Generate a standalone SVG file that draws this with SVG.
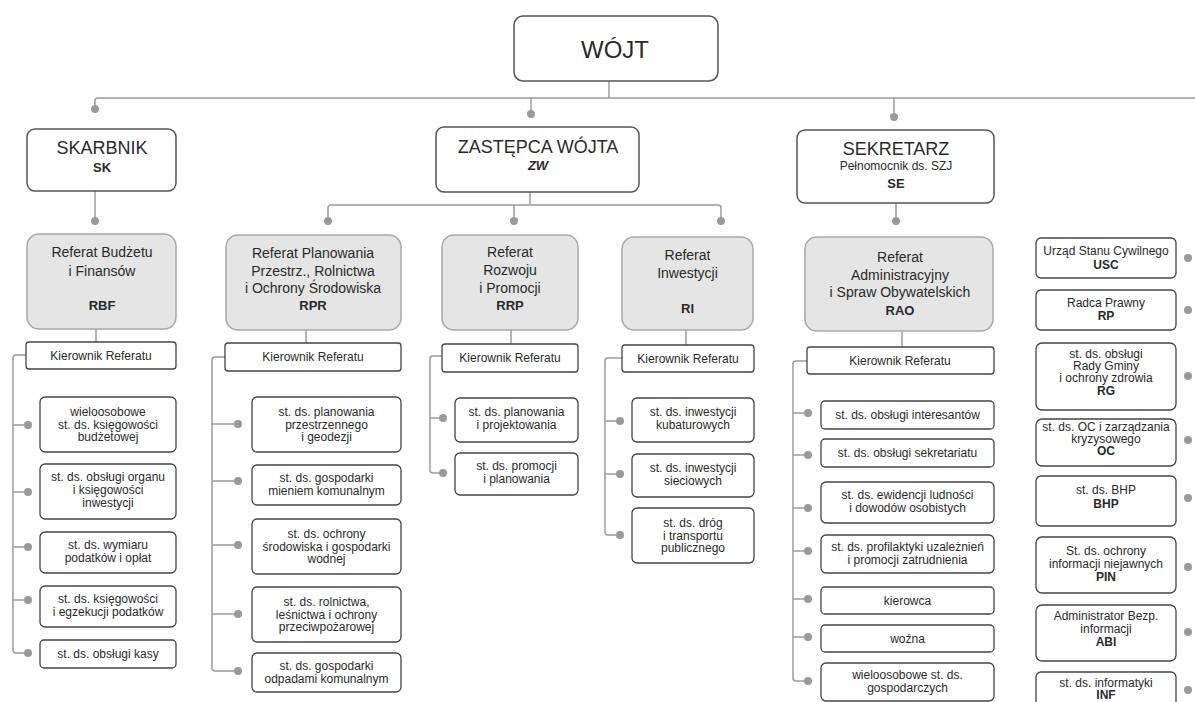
<svg xmlns="http://www.w3.org/2000/svg" width="1195" height="702" viewBox="0 0 1195 702">
<style>
text{font-family:"Liberation Sans",Arial,sans-serif;fill:#2a2a2a;text-anchor:middle}
.big{font-size:24px}
.h1{font-size:18px}
.h2{font-size:14px}
.s{font-size:12px}
.b{font-weight:bold;font-size:13px}
.bs{font-weight:bold;font-size:12px}
.top{fill:#fff;stroke:#555;stroke-width:1.5}
.ref{fill:#e5e5e5;stroke:#a8a8a8;stroke-width:1.5}
.box{fill:#fff;stroke:#444;stroke-width:1.3}
.ln{fill:none;stroke:#9a9a9a;stroke-width:1.5}
.dot{fill:#9a9a9a}
</style>
<rect width="1195" height="702" fill="#fff"/>
<g id="connectors">
<path class="ln" d="M609,81V98 M95,109V101Q95,98 98,98H1195 M531,98V114 M894,98V117"/>
<path class="ln" d="M95,191V221 M530,192V205 M328,221V208Q328,205 331,205H718Q721,205 721,208V221 M514,205V221 M896,203V221"/>
<path class="ln" d="M96,329V342 M306,330V343 M511,330V344 M686,330V345 M902,331V347"/>
<path class="ln" d="M26,355H16Q13,355 13,358V650Q13,653 16,653H28 M13,425H28 M13,492H28 M13,547H28 M13,600H28"/>
<path class="ln" d="M225,357H215Q212,357 212,360V668Q212,671 215,671H238 M212,424H238 M212,481H238 M212,545H238 M212,614H238"/>
<path class="ln" d="M442,356H433Q430,356 430,359V470Q430,473 433,473H443 M430,418H443"/>
<path class="ln" d="M622,358H608Q605,358 605,361V532Q605,535 608,535H620 M605,421H620 M605,474H620"/>
<path class="ln" d="M807,361H796Q793,361 793,364V678Q793,681 796,681H808 M793,413H808 M793,455H808 M793,508H808 M793,551H808 M793,599H808 M793,637H808"/>
<g class="dot">
<circle cx="95" cy="109" r="4"/><circle cx="531" cy="114" r="4"/><circle cx="894" cy="117" r="4"/>
<circle cx="95" cy="221" r="4"/><circle cx="328" cy="221" r="4"/><circle cx="514" cy="221" r="4"/><circle cx="721" cy="221" r="4"/><circle cx="896" cy="221" r="4"/>
<circle cx="28" cy="425" r="4"/><circle cx="28" cy="492" r="4"/><circle cx="28" cy="547" r="4"/><circle cx="28" cy="600" r="4"/><circle cx="28" cy="653" r="4"/>
<circle cx="238" cy="424" r="4"/><circle cx="238" cy="481" r="4"/><circle cx="238" cy="545" r="4"/><circle cx="238" cy="614" r="4"/><circle cx="238" cy="671" r="4"/>
<circle cx="443" cy="418" r="4"/><circle cx="443" cy="473" r="4"/>
<circle cx="620" cy="421" r="4"/><circle cx="620" cy="474" r="4"/><circle cx="620" cy="535" r="4"/>
<circle cx="808" cy="413" r="4"/><circle cx="808" cy="455" r="4"/><circle cx="808" cy="508" r="4"/><circle cx="808" cy="551" r="4"/><circle cx="808" cy="599" r="4"/><circle cx="808" cy="637" r="4"/><circle cx="808" cy="681" r="4"/>
<circle cx="1188" cy="258" r="4"/><circle cx="1188" cy="310" r="4"/><circle cx="1188" cy="376" r="4"/><circle cx="1188" cy="440" r="4"/><circle cx="1188" cy="498" r="4"/><circle cx="1188" cy="567" r="4"/><circle cx="1188" cy="632" r="4"/><circle cx="1188" cy="690" r="4"/>
</g>
</g>
<g id="wojt"><rect class="top" x="514" y="16" width="204" height="65" rx="9"/><text class="big" x="615" y="58">WÓJT</text></g>
<g id="sk"><rect class="top" x="27" y="129" width="149" height="62" rx="8"/><text class="h1" x="102" y="154">SKARBNIK</text><text class="b" x="102" y="172">SK</text></g>
<g id="zw"><rect class="top" x="436" y="127" width="203" height="65" rx="8"/><text class="h1" x="538" y="153">ZASTĘPCA WÓJTA</text><text class="b" x="538" y="170" font-style="italic">ZW</text></g>
<g id="se"><rect class="top" x="797" y="130" width="197" height="73" rx="8"/><text class="h1" x="896" y="155">SEKRETARZ</text><text class="s" x="896" y="170">Pełnomocnik ds. SZJ</text><text class="b" x="896" y="188">SE</text></g>

<g id="rbf"><rect class="ref" x="27" y="234" width="149" height="95" rx="12"/><text class="h2" x="102" y="257">Referat Budżetu</text><text class="h2" x="102" y="276">i Finansów</text><text class="b" x="102" y="310">RBF</text></g>
<g id="rbf-k"><rect class="box" x="26" y="342" width="150" height="27" rx="3"/><text class="s" x="101" y="360">Kierownik Referatu</text></g>
<g id="rbf-1"><rect class="box" x="40" y="397" width="136" height="55" rx="5"/><text class="s" x="108" y="416">wieloosobowe</text><text class="s" x="108" y="428.5">st. ds. księgowości</text><text class="s" x="108" y="441">budżetowej</text></g>
<g id="rbf-2"><rect class="box" x="40" y="464" width="136" height="55" rx="5"/><text class="s" x="108" y="481">st. ds. obsługi organu</text><text class="s" x="108" y="494">i księgowości</text><text class="s" x="108" y="507">inwestycji</text></g>
<g id="rbf-3"><rect class="box" x="40" y="532" width="136" height="41" rx="5"/><text class="s" x="108" y="549">st. ds. wymiaru</text><text class="s" x="108" y="562">podatków i opłat</text></g>
<g id="rbf-4"><rect class="box" x="40" y="586" width="136" height="41" rx="5"/><text class="s" x="108" y="603">st. ds. księgowości</text><text class="s" x="108" y="616">i egzekucji podatków</text></g>
<g id="rbf-5"><rect class="box" x="40" y="640" width="136" height="28" rx="4"/><text class="s" x="108" y="658">st. ds. obsługi kasy</text></g>

<g id="rpr"><rect class="ref" x="226" y="235" width="175" height="95" rx="12"/><text class="h2" x="313" y="258">Referat Planowania</text><text class="h2" x="313" y="275.5">Przestrz., Rolnictwa</text><text class="h2" x="313" y="293">i Ochrony Środowiska</text><text class="b" x="313" y="310">RPR</text></g>
<g id="rpr-k"><rect class="box" x="225" y="343" width="176" height="28" rx="3"/><text class="s" x="313" y="361">Kierownik Referatu</text></g>
<g id="rpr-1"><rect class="box" x="252" y="397" width="149" height="55" rx="5"/><text class="s" x="326.5" y="416">st. ds. planowania</text><text class="s" x="326.5" y="428.5">przestrzennego</text><text class="s" x="326.5" y="441">i geodezji</text></g>
<g id="rpr-2"><rect class="box" x="252" y="465" width="149" height="40" rx="5"/><text class="s" x="326.5" y="482">st. ds. gospodarki</text><text class="s" x="326.5" y="495">mieniem komunalnym</text></g>
<g id="rpr-3"><rect class="box" x="252" y="519" width="149" height="55" rx="5"/><text class="s" x="326.5" y="538">st. ds. ochrony</text><text class="s" x="326.5" y="550.5">środowiska i gospodarki</text><text class="s" x="326.5" y="563">wodnej</text></g>
<g id="rpr-4"><rect class="box" x="252" y="587" width="149" height="55" rx="5"/><text class="s" x="326.5" y="606">st. ds. rolnictwa,</text><text class="s" x="326.5" y="618.5">leśnictwa i ochrony</text><text class="s" x="326.5" y="631">przeciwpożarowej</text></g>
<g id="rpr-5"><rect class="box" x="252" y="653" width="149" height="39" rx="5"/><text class="s" x="326.5" y="669.5">st. ds. gospodarki</text><text class="s" x="326.5" y="682.5">odpadami komunalnym</text></g>

<g id="rrp"><rect class="ref" x="442" y="235" width="136" height="95" rx="12"/><text class="h2" x="510" y="257">Referat</text><text class="h2" x="510" y="275">Rozwoju</text><text class="h2" x="510" y="293">i Promocji</text><text class="b" x="510" y="310">RRP</text></g>
<g id="rrp-k"><rect class="box" x="442" y="344" width="136" height="28" rx="3"/><text class="s" x="510" y="362">Kierownik Referatu</text></g>
<g id="rrp-1"><rect class="box" x="455" y="398" width="123" height="44" rx="5"/><text class="s" x="516.5" y="416">st. ds. planowania</text><text class="s" x="516.5" y="429">i projektowania</text></g>
<g id="rrp-2"><rect class="box" x="455" y="453" width="123" height="42" rx="5"/><text class="s" x="516.5" y="470">st. ds. promocji</text><text class="s" x="516.5" y="483">i planowania</text></g>

<g id="ri"><rect class="ref" x="622" y="237" width="131" height="93" rx="12"/><text class="h2" x="687.5" y="260">Referat</text><text class="h2" x="687.5" y="278">Inwestycji</text><text class="b" x="687.5" y="313">RI</text></g>
<g id="ri-k"><rect class="box" x="622" y="345" width="132" height="27" rx="3"/><text class="s" x="688" y="363">Kierownik Referatu</text></g>
<g id="ri-1"><rect class="box" x="632" y="398" width="122" height="44" rx="5"/><text class="s" x="693" y="416">st. ds. inwestycji</text><text class="s" x="693" y="429">kubaturowych</text></g>
<g id="ri-2"><rect class="box" x="632" y="454" width="122" height="43" rx="5"/><text class="s" x="693" y="472">st. ds. inwestycji</text><text class="s" x="693" y="485">sieciowych</text></g>
<g id="ri-3"><rect class="box" x="632" y="508" width="122" height="55" rx="5"/><text class="s" x="693" y="527">st. ds. dróg</text><text class="s" x="693" y="539.5">i transportu</text><text class="s" x="693" y="552">publicznego</text></g>

<g id="rao"><rect class="ref" x="805" y="237" width="188" height="94" rx="12"/><text class="h2" x="900" y="262">Referat</text><text class="h2" x="900" y="279.5">Administracyjny</text><text class="h2" x="900" y="297">i Spraw Obywatelskich</text><text class="b" x="900" y="315">RAO</text></g>
<g id="rao-k"><rect class="box" x="807" y="347" width="187" height="27" rx="3"/><text class="s" x="900" y="365">Kierownik Referatu</text></g>
<g id="rao-1"><rect class="box" x="821" y="401" width="173" height="28" rx="4"/><text class="s" x="907.5" y="419">st. ds. obsługi interesantów</text></g>
<g id="rao-2"><rect class="box" x="821" y="439" width="173" height="28" rx="4"/><text class="s" x="907.5" y="457">st. ds. obsługi sekretariatu</text></g>
<g id="rao-3"><rect class="box" x="821" y="482" width="173" height="41" rx="5"/><text class="s" x="907.5" y="499">st. ds. ewidencji ludności</text><text class="s" x="907.5" y="512">i dowodów osobistych</text></g>
<g id="rao-4"><rect class="box" x="821" y="535" width="173" height="38" rx="5"/><text class="s" x="907.5" y="551">st. ds. profilaktyki uzależnień</text><text class="s" x="907.5" y="564">i promocji zatrudnienia</text></g>
<g id="rao-5"><rect class="box" x="821" y="587" width="173" height="27" rx="4"/><text class="s" x="907.5" y="604.5">kierowca</text></g>
<g id="rao-6"><rect class="box" x="821" y="625" width="173" height="27" rx="4"/><text class="s" x="907.5" y="642.5">woźna</text></g>
<g id="rao-7"><rect class="box" x="821" y="663" width="173" height="38" rx="5"/><text class="s" x="907.5" y="679">wieloosobowe st. ds.</text><text class="s" x="907.5" y="692">gospodarczych</text></g>

<g id="usc"><rect class="box" x="1036" y="238" width="140" height="40" rx="5"/><text class="s" x="1106" y="255">Urząd Stanu Cywilnego</text><text class="bs" x="1106" y="269">USC</text></g>
<g id="rp"><rect class="box" x="1036" y="290" width="140" height="40" rx="5"/><text class="s" x="1106" y="307">Radca Prawny</text><text class="bs" x="1106" y="320">RP</text></g>
<g id="rg"><rect class="box" x="1036" y="343" width="140" height="67" rx="6"/><text class="s" x="1106" y="358">st. ds. obsługi</text><text class="s" x="1106" y="370">Rady Gminy</text><text class="s" x="1106" y="382">i ochrony zdrowia</text><text class="bs" x="1106" y="395">RG</text></g>
<g id="oc"><rect class="box" x="1036" y="419" width="140" height="47" rx="6"/><text class="s" x="1106" y="431">st. ds. OC i zarządzania</text><text class="s" x="1106" y="443">kryzysowego</text><text class="bs" x="1106" y="455">OC</text></g>
<g id="bhp"><rect class="box" x="1036" y="476" width="140" height="50" rx="5"/><text class="s" x="1106" y="494">st. ds. BHP</text><text class="bs" x="1106" y="508">BHP</text></g>
<g id="pin"><rect class="box" x="1036" y="537" width="140" height="56" rx="6"/><text class="s" x="1106" y="555">St. ds. ochrony</text><text class="s" x="1106" y="568">informacji niejawnych</text><text class="bs" x="1106" y="581">PIN</text></g>
<g id="abi"><rect class="box" x="1036" y="605" width="140" height="56" rx="6"/><text class="s" x="1106" y="620">Administrator Bezp.</text><text class="s" x="1106" y="633">informacji</text><text class="bs" x="1106" y="646">ABI</text></g>
<g id="inf"><rect class="box" x="1036" y="672" width="140" height="40" rx="5"/><text class="s" x="1106" y="687">st. ds. informatyki</text><text class="bs" x="1106" y="699">INF</text></g>
</svg>
